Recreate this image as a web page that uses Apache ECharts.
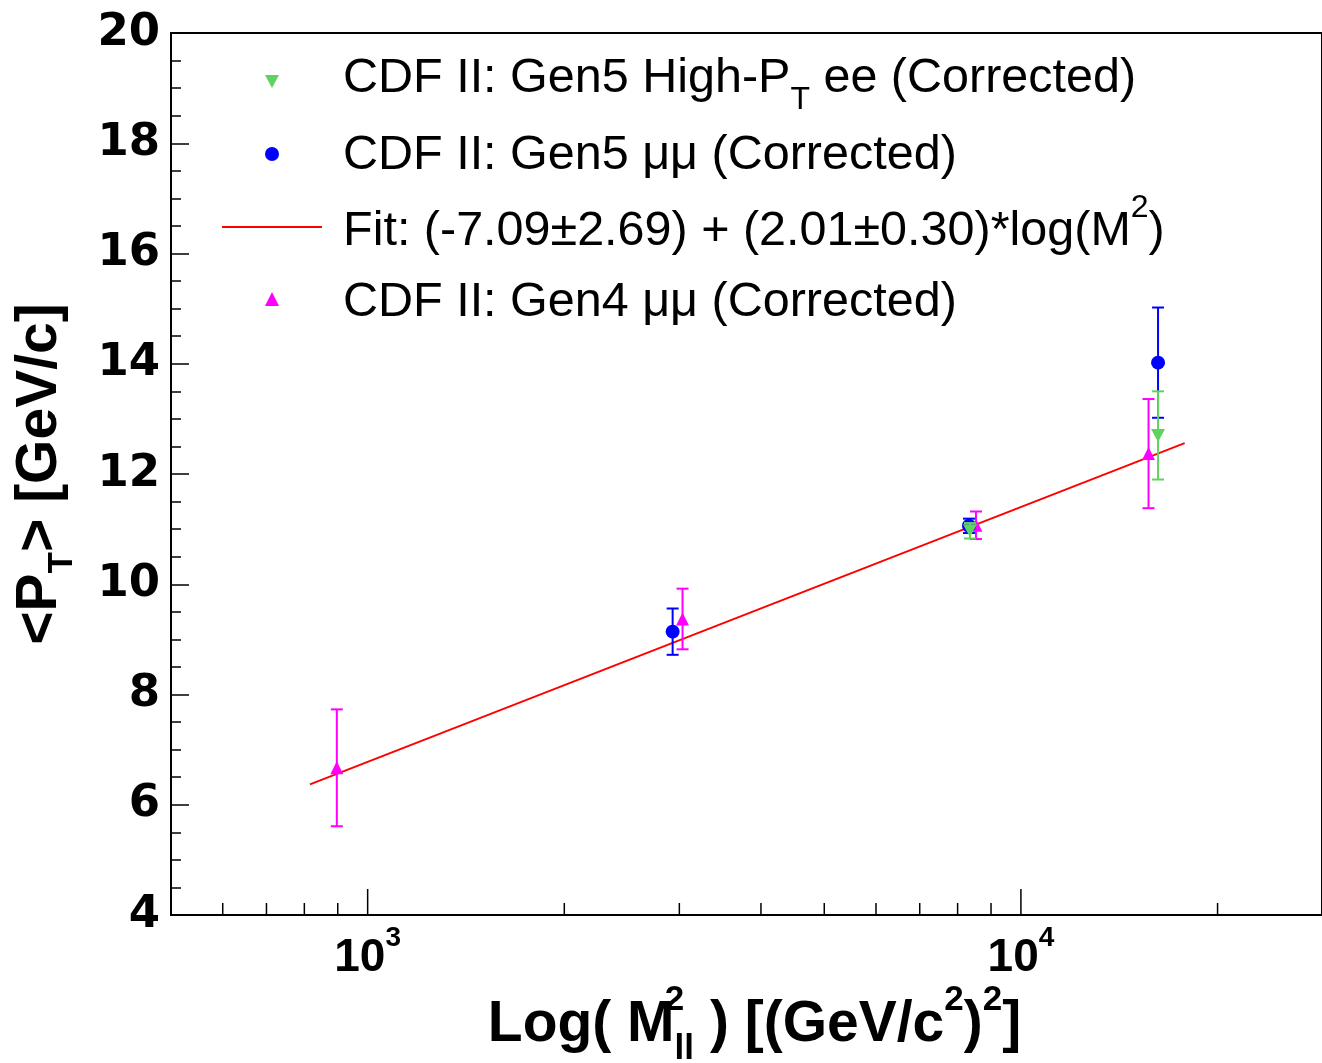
<!DOCTYPE html>
<html>
<head>
<meta charset="utf-8">
<script src="https://cdn.jsdelivr.net/npm/echarts@6/dist/echarts.min.js"></script>
<style>
html,body{margin:0;padding:0;background:#fff;}
#chart{width:1322px;height:1063px;}
</style>
</head>
<body>
<div id="chart"></div>
<script>
// ---------------- data ----------------
const gen4X   = [897, 3034, 8535, 15680];
const gen4Y   = [6.67, 9.37, 11.07, 12.37];
const gen4Err = [1.06, 0.55, 0.25, 0.99];

const gen5mmX   = [2930, 8327, 16215];
const gen5mmY   = [9.14, 11.06, 14.02];
const gen5mmErr = [0.42, 0.13, 1.00];

const gen5eeX   = [8356, 16215];
const gen5eeY   = [10.97, 12.70];
const gen5eeErr = [0.14, 0.80];

const fitX = [816, 17810];
const fitY = [6.37, 12.56];

const xMinorTicks = [600, 700, 800, 900, 2000, 3000, 4000, 5000, 6000, 7000, 8000, 9000, 20000];
const xMajorTicks = [1000, 10000];
const xLabelPowers = [3, 4];

const legendLabels = [
  '{m|CDF II: Gen5 High-P}{sub|T}{m| ee (Corrected)}',
  '{m|CDF II: Gen5 \u03bc\u03bc (Corrected)}',
  '{m|Fit: (-7.09\u00b12.69) + (2.01\u00b10.30)*log(M}{sup|2}{m|)}',
  '{m|CDF II: Gen4 \u03bc\u03bc (Corrected)}'
];
const xTitle = '{m|Log( M}{sup|2}{sub|ll}{m| ) [(GeV/c}{sup2|2}{m|)}{sup2|2}{m|]}';
const yTitle = '{m|<P}{sub|T}{m|> [GeV/c]}';

// ---------------- styles ----------------
const FONT = '"Liberation Sans", Arial, Helvetica, sans-serif';
const WIDEFONT = '"DejaVu Sans", Verdana, sans-serif';
const GREEN = '#5fd35f', BLUE = '#0000ff', MAGENTA = '#ff00ff', RED = '#ff0000';

function zip3(xs, ys, es) { return xs.map((x, i) => [x, ys[i], es[i]]); }
function zip2(xs, ys) { return xs.map((x, i) => [x, ys[i]]); }

function errRender(color) {
  return function (params, api) {
    const x = api.value(0), y = api.value(1), e = api.value(2);
    const hi = api.coord([x, y + e]);
    const lo = api.coord([x, y - e]);
    const cw = 6;
    const st = { stroke: color, lineWidth: 2 };
    return {
      type: 'group',
      children: [
        { type: 'line', shape: { x1: hi[0], y1: hi[1], x2: lo[0], y2: lo[1] }, style: st },
        { type: 'line', shape: { x1: hi[0] - cw, y1: hi[1], x2: hi[0] + cw, y2: hi[1] }, style: st },
        { type: 'line', shape: { x1: lo[0] - cw, y1: lo[1], x2: lo[0] + cw, y2: lo[1] }, style: st }
      ]
    };
  };
}

function tickRender(params, api) {
  const v = api.value(0);
  const p = api.coord([v, 4]);
  const len = xMajorTicks.indexOf(v) >= 0 ? 26 : 12;
  return {
    type: 'line',
    shape: { x1: p[0], y1: p[1], x2: p[0], y2: p[1] - len },
    style: { stroke: '#000', lineWidth: 1.5 }
  };
}

const legRich = {
  m:   { fontFamily: FONT, fontSize: 48.5, lineHeight: 60, color: '#000', verticalAlign: 'middle' },
  sub: { fontFamily: FONT, fontSize: 32, lineHeight: 32, padding: [42, 0, 0, 0], color: '#000', verticalAlign: 'middle' },
  sup: { fontFamily: FONT, fontSize: 32, lineHeight: 32, padding: [0, 0, 48, 0], color: '#000', verticalAlign: 'middle' }
};
const legRowY = [79, 156, 232, 303];
const legIconY = [81, 154, 227, 299];
const legTextX = 343;
const legIconX = 272;

const chart = echarts.init(document.getElementById('chart'), null, { renderer: 'canvas' });

const option = {
  backgroundColor: '#fff',
  animation: false,
  grid: {
    left: 171, right: 0, top: 33, bottom: 148,
    outerBoundsMode: 'none', containLabel: false,
    show: true, borderColor: '#000', borderWidth: 2, backgroundColor: 'transparent'
  },
  xAxis: {
    type: 'log', logBase: 10, min: 500, max: 28900,
    axisLine: { show: true, lineStyle: { color: '#000', width: 2 } },
    axisTick: { show: false },
    minorTick: { show: false },
    splitLine: { show: false },
    axisLabel: {
      margin: 20,
      formatter: function (v) {
        const l = Math.log10(v), r = Math.round(l);
        if (Math.abs(l - r) < 1e-6 && xLabelPowers.indexOf(r) >= 0) return '{b|10}{s|' + r + '}';
        return '';
      },
      rich: {
        b: { fontFamily: FONT, fontWeight: 'bold', fontSize: 46, lineHeight: 46, color: '#000', verticalAlign: 'middle' },
        s: { fontFamily: FONT, fontWeight: 'bold', fontSize: 28, lineHeight: 28, padding: [0, 0, 39, 0], color: '#000', verticalAlign: 'middle' }
      }
    },
    name: xTitle,
    nameLocation: 'middle',
    nameGap: 81,
    nameMoveOverlap: false,
    nameTextStyle: {
      verticalAlign: 'top',
      padding: [0, 0, 0, 16],
      rich: {
        m:    { fontFamily: FONT, fontWeight: 'bold', fontSize: 57, lineHeight: 58, color: '#000', verticalAlign: 'middle' },
        sup:  { fontFamily: FONT, fontWeight: 'bold', fontSize: 35, lineHeight: 35, width: 0, padding: [0, 0, 50, 0], color: '#000', verticalAlign: 'middle' },
        sub:  { fontFamily: FONT, fontWeight: 'bold', fontSize: 35, lineHeight: 35, padding: [48, 0, 0, 0], color: '#000', verticalAlign: 'middle' },
        sup2: { fontFamily: FONT, fontWeight: 'bold', fontSize: 35, lineHeight: 35, padding: [0, 0, 50, 0], color: '#000', verticalAlign: 'middle' }
      }
    }
  },
  yAxis: {
    type: 'value', min: 4, max: 20, interval: 2,
    axisLine: { show: true, lineStyle: { color: '#000', width: 2 } },
    axisTick: { show: true, inside: true, length: 18, lineStyle: { color: '#000', width: 1.5 } },
    minorTick: { show: true, splitNumber: 4, length: 10, lineStyle: { color: '#000', width: 1.5 } },
    splitLine: { show: false },
    axisLabel: {
      margin: 11,
      fontFamily: WIDEFONT, fontWeight: 'bold', fontSize: 45, color: '#000'
    },
    name: yTitle,
    nameLocation: 'middle',
    nameRotate: 90,
    nameGap: 102,
    nameMoveOverlap: false,
    nameTextStyle: {
      verticalAlign: 'bottom',
      rich: {
        m:   { fontFamily: FONT, fontWeight: 'bold', fontSize: 57, lineHeight: 57, color: '#000', verticalAlign: 'middle' },
        sub: { fontFamily: FONT, fontWeight: 'bold', fontSize: 35, lineHeight: 35, padding: [44, 0, 0, 0], color: '#000', verticalAlign: 'middle' }
      }
    }
  },
  graphic: [
    // legend keys
    { type: 'polygon', shape: { points: [[legIconX - 7, legIconY[0] - 6], [legIconX + 7, legIconY[0] - 6], [legIconX, legIconY[0] + 7]] }, style: { fill: GREEN } },
    { type: 'circle', shape: { cx: legIconX, cy: legIconY[1], r: 7 }, style: { fill: BLUE } },
    { type: 'line', shape: { x1: 222, y1: legIconY[2], x2: 322, y2: legIconY[2] }, style: { stroke: RED, lineWidth: 2 } },
    { type: 'polygon', shape: { points: [[legIconX - 7, legIconY[3] + 7], [legIconX + 7, legIconY[3] + 7], [legIconX, legIconY[3] - 7]] }, style: { fill: MAGENTA } },
    // legend labels
    { type: 'text', x: legTextX, y: legRowY[0], style: { text: legendLabels[0], rich: legRich, verticalAlign: 'middle', align: 'left' } },
    { type: 'text', x: legTextX, y: legRowY[1], style: { text: legendLabels[1], rich: legRich, verticalAlign: 'middle', align: 'left' } },
    { type: 'text', x: legTextX, y: legRowY[2], style: { text: legendLabels[2], rich: legRich, verticalAlign: 'middle', align: 'left' } },
    { type: 'text', x: legTextX, y: legRowY[3], style: { text: legendLabels[3], rich: legRich, verticalAlign: 'middle', align: 'left' } }
  ],
  series: [
    {
      type: 'custom', name: 'xticks', renderItem: tickRender, clip: false, silent: true,
      data: xMinorTicks.concat(xMajorTicks).map(v => [v, 4]), z: 5
    },
    {
      type: 'line', name: 'Fit', data: zip2(fitX, fitY), showSymbol: false,
      lineStyle: { color: RED, width: 2 }, z: 2
    },
    { type: 'custom', name: 'gen4err', renderItem: errRender(MAGENTA), data: zip3(gen4X, gen4Y, gen4Err), z: 3 },
    { type: 'scatter', name: 'Gen4', data: zip2(gen4X, gen4Y), symbol: 'triangle', symbolSize: [13, 13],
      itemStyle: { color: MAGENTA, opacity: 1 }, z: 4 },
    { type: 'custom', name: 'gen5mmerr', renderItem: errRender(BLUE), data: zip3(gen5mmX, gen5mmY, gen5mmErr), z: 5 },
    { type: 'scatter', name: 'Gen5mm', data: zip2(gen5mmX, gen5mmY), symbol: 'circle', symbolSize: 14,
      itemStyle: { color: BLUE, opacity: 1 }, z: 6 },
    { type: 'custom', name: 'gen5eeerr', renderItem: errRender(GREEN), data: zip3(gen5eeX, gen5eeY, gen5eeErr), z: 7 },
    { type: 'scatter', name: 'Gen5ee', data: zip2(gen5eeX, gen5eeY), symbol: 'triangle', symbolRotate: 180, symbolSize: [14, 13],
      itemStyle: { color: GREEN, opacity: 1 }, z: 8 }
  ]
};

chart.setOption(option);
</script>
</body>
</html>
